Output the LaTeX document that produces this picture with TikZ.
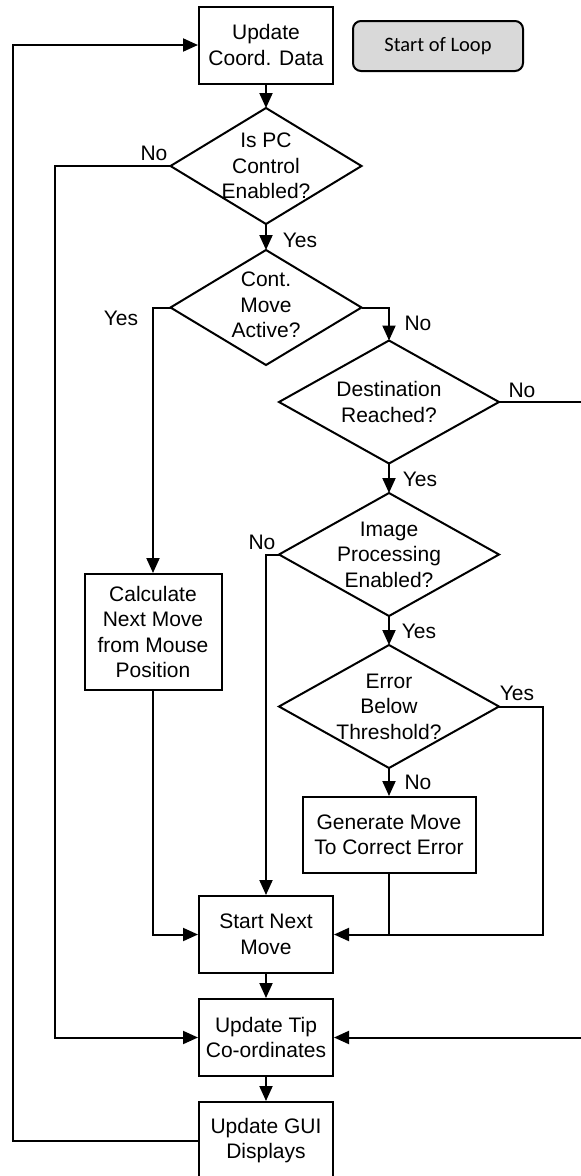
\documentclass[tikz,border=0pt]{standalone}
\usepackage{fontspec}
\setmainfont{Liberation Sans}
\newfontfamily\calibfont{Carlito}
\usetikzlibrary{arrows.meta,shapes.geometric}

\tikzset{
  flow/.style={line width=2pt},
  arr/.style={flow,-{Triangle[length=15pt,width=13pt]}},
  procbox/.style={draw,line width=2pt,inner sep=0pt,align=center,
    font=\fontsize{21}{25.5}\selectfont},
  decision/.style={draw,diamond,line width=2pt,inner sep=0pt,outer sep=0pt},
  dtext/.style={align=center,inner sep=0pt,font=\fontsize{21}{25.5}\selectfont},
  answer/.style={inner sep=0pt,font=\fontsize{21}{25}\selectfont},
  loopbox/.style={draw,line width=2pt,rounded corners=8pt,fill=black!15,
    minimum width=170pt,minimum height=50pt,inner sep=0pt,
    font=\calibfont\fontsize{20.5}{24}\selectfont},
}

\begin{document}
\begin{tikzpicture}[x=1pt,y=-1pt]
\clip (0,0) rectangle (581,1176);
\useasboundingbox (0,0) rectangle (581,1176);

% process boxes
\node[procbox,minimum width=134pt,minimum height=77pt] (upd) at (266,45) {Update\\Coord. Data};
\node[loopbox] (loop) at (438,46) {Start of Loop};
\node[procbox,minimum width=137pt,minimum height=116pt] (calc) at (153,632) {Calculate\\Next Move\\from Mouse\\Position};
\node[procbox,minimum width=173pt,minimum height=76pt] (gen) at (389,835) {Generate Move\\To Correct Error};
\node[procbox,minimum width=134pt,minimum height=77pt] (start) at (266,934.5) {Start Next\\Move};
\node[procbox,minimum width=134pt,minimum height=77pt] (tip) at (266,1037.5) {Update Tip\\Co-ordinates};
\node[procbox,minimum width=134pt,minimum height=77pt] (gui) at (266,1140.5) {Update GUI\\Displays};

% decisions
\node[decision,minimum width=191pt,minimum height=116pt] (pc) at (266,166) {};
\node[dtext] (pct) at (266,166) {Is PC\\Control\\Enabled?};
\node[decision,minimum width=191pt,minimum height=115pt] (cont) at (266,307.5) {};
\node[dtext] (contt) at (266,305) {Cont.\\Move\\Active?};
\node[decision,minimum width=220pt,minimum height=123pt] (dest) at (389,402) {};
\node[dtext] (destt) at (389,402) {Destination\\Reached?};
\node[decision,minimum width=220pt,minimum height=123pt] (img) at (389,554.5) {};
\node[dtext] (imgt) at (389,554.5) {Image\\Processing\\Enabled?};
\node[decision,minimum width=220pt,minimum height=123pt] (err) at (389,706.5) {};
\node[dtext] (errt) at (389,706.5) {Error\\Below\\Threshold?};

% x positions of the vertical runs
\coordinate (loopL) at (13,0);
\coordinate (pcL) at (55,0);
\coordinate (destR) at (600,0);
\coordinate (errR) at (543,0);

% main column
\draw[arr] (upd) -- (pc);
\draw[arr] (pc) -- (cont);
\draw[arr] (dest) -- (img);
\draw[arr] (img) -- (err);
\draw[arr] (err) -- (gen);
\draw[arr] (start) -- (tip);
\draw[arr] (tip) -- (gui);

% branches
\draw[arr] (gui.west) -- (gui.west -| loopL) |- (upd.west);
\draw[arr] (pc.west) -- (pc.west -| pcL) |- (tip.west);
\draw[arr] (cont.west) -- (cont.west -| calc.north) -- (calc.north);
\draw[arr] (cont.east) -| (dest.north);
\draw[arr] (dest.east) -- (dest.east -| destR) |- (tip.east);
\draw[arr] (img.west) -| (start.north);
\draw[arr] (calc.south) |- (start.west);
\draw[arr] (err.east) -- (err.east -| errR) |- (start.east);
\draw[flow] (gen.south) -- (gen.south |- start.east);

% answers
\node[answer] (a1) at (154,153) {No};
\node[answer] (a2) at (300,240) {Yes};
\node[answer] (a3) at (121,318) {Yes};
\node[answer] (a4) at (418,323) {No};
\node[answer] (a5) at (522,390) {No};
\node[answer] (a6) at (420,479) {Yes};
\node[answer] (a7) at (262,542) {No};
\node[answer] (a8) at (419,631) {Yes};
\node[answer] (a9) at (517,693) {Yes};
\node[answer] (a10) at (418,782) {No};
\end{tikzpicture}
\end{document}
